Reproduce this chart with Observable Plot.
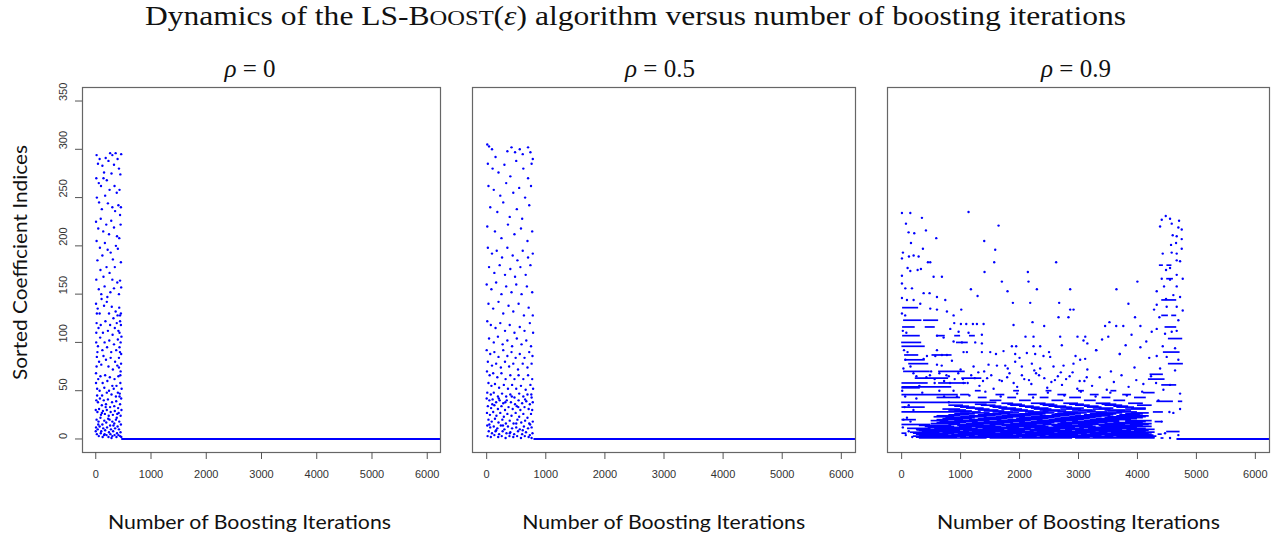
<!DOCTYPE html>
<html><head><meta charset="utf-8">
<script src="https://cdn.jsdelivr.net/npm/d3@7"></script>
<script src="https://cdn.jsdelivr.net/npm/@observablehq/plot@0.6"></script>
<style>
html,body{margin:0;padding:0;background:#fff;}
#wrap{position:relative;width:1283px;height:535px;overflow:hidden;background:#fff;}
#wrap > svg{position:absolute;margin:0;}
</style></head><body><div id="wrap"></div>
<script>
// ---------- text ----------
const chartTitle = ["Dynamics of the LS-B", "OOST", "(", "ε", ") algorithm versus number of boosting iterations"];
const rhoValues = ["0", "0.5", "0.9"];
const xAxisLabel = "Number of Boosting Iterations";
const yAxisLabel = "Sorted Coefficient Indices";
const xTicks = [0, 1000, 2000, 3000, 4000, 5000, 6000];
const yTicks = [0, 50, 100, 150, 200, 250, 300, 350];

// ---------- data: [iteration, sorted coefficient index] ----------
// iteration from which every later step picks coefficient index 0
const tailStart = [470, 800, 4670];
const lastIteration = 6300;

const rho0Points = [
[15,294],[40,285],[70,290],[120,283],[150,276],[180,291],[230,288],[260,296],[300,294],[330,284],[360,296],[395,290],[420,280],[445,274],[460,295],
[10,270],[55,265],[95,262],[140,270],[200,268],[250,258],[285,275],[340,262],[380,255],[430,258],[455,240],
[20,250],[60,245],[110,238],[170,252],[220,244],[300,240],[350,236],[410,242],[440,232],
[5,225],[45,218],[90,228],[135,215],[190,222],[240,212],[280,226],[330,219],[385,210],[425,208],[450,222],
[15,205],[75,198],[120,190],[165,203],[215,196],[270,193],[310,186],[365,200],[400,197],[455,183],
[30,185],[85,175],[140,168],[195,178],[250,172],[300,165],[345,178],[390,162],[440,164],
[10,165],[55,155],[100,150],[160,158],[210,147],[265,152],[330,156],[420,150],[460,157],
[5,140],[35,135],[70,130],[105,145],[150,138],[200,142],[240,130],[290,137],[320,125],[360,132],[395,128],[425,136],[455,130],
[15,120],[50,115],[90,118],[130,110],[175,122],[220,112],[260,118],[305,108],[345,115],[380,120],[410,112],[440,122],[465,106],
[8,100],[40,96],[80,105],[120,92],[160,100],[205,95],[245,102],[280,90],[330,98],[370,92],[400,103],[430,95],[460,88],
[20,85],[60,80],[100,77],[140,86],[185,82],[230,75],[270,84],[310,72],[350,80],[390,76],[420,84],[450,70],
[5,68],[45,62],[85,65],[125,58],[170,66],[210,60],[255,64],[300,55],[340,62],[375,55],[410,65],[445,58],[468,52],
[25,52],[70,50],[115,45],[155,53],[200,48],[240,50],[285,46],[325,52],[365,44],[400,48],[435,47],
[10,40],[40,38],[75,42],[110,35],[145,40],[185,36],[220,41],[260,33],[295,38],[335,34],[370,39],[405,32],[440,36],[465,30],
[0,30],[30,28],[60,31],[95,25],[130,29],[165,26],[200,30],[235,24],[270,28],[310,25],[345,29],[380,22],[415,27],[450,24],
[15,20],[50,18],[85,22],[120,15],[155,19],[190,17],[225,21],[260,14],[300,18],[335,16],[365,20],[395,13],[425,18],[455,15],
[5,12],[35,10],[70,13],[100,8],[135,11],[170,9],[205,12],[240,7],[275,10],[315,8],[350,11],[385,6],[420,10],[448,7],
[20,5],[55,3],[90,6],[125,2],[160,5],[195,4],[230,2],[265,5],[300,3],[340,4],[375,2],[410,4],[440,3],[462,2],
[0,8],[45,15],[110,27],[180,33],[250,20],[320,14],[390,26],[430,44],[460,42],[25,45],[150,4],[285,1],
[440,128],[455,118],[430,110],[450,100],[438,90],[420,74],[445,66],[458,78],[20,130],[10,110],[30,90],[15,75],[5,58]
];

const rho05Points = [
[10,305],[40,303],[90,300],[150,292],[350,298],[420,302],[480,297],[560,300],[610,295],[700,302],[740,297],[780,290],
[20,285],[100,280],[200,276],[300,284],[400,272],[500,288],[620,280],[700,270],[760,285],
[30,262],[120,258],[230,252],[330,265],[450,255],[550,260],[650,250],[750,262],
[60,240],[180,235],[280,245],[390,230],[510,238],[600,228],[720,242],
[10,220],[140,215],[250,208],[360,222],[470,212],[580,218],[690,205],[770,215],
[20,198],[90,192],[170,195],[260,188],[350,198],[440,190],[520,185],[610,195],[700,188],[780,192],
[40,178],[130,172],[220,180],[310,170],[400,176],[480,168],[570,178],[660,170],[740,180],
[0,160],[80,155],[160,162],[250,150],[330,158],[420,152],[500,160],[590,150],[680,158],[770,152],
[30,140],[110,135],[200,142],[280,130],[370,138],[450,132],[540,140],[630,128],[710,136],[780,128],
[10,122],[70,118],[150,115],[230,120],[310,112],[390,118],[470,110],[560,116],[640,112],[730,120],[785,110],
[40,104],[120,100],[190,106],[270,98],[350,102],[430,96],[510,104],[590,98],[670,102],[750,96],
[0,92],[60,88],[130,90],[200,85],[280,92],[350,86],[420,90],[490,84],[560,88],[640,84],[720,90],[775,86],
[20,80],[90,76],[160,78],[240,74],[310,80],[380,75],[450,78],[530,72],[610,78],[690,74],[760,78],
[5,70],[50,66],[110,68],[180,64],[250,68],[320,62],[400,66],[470,62],[540,66],[620,62],[700,66],[770,62],
[30,58],[80,55],[140,57],[210,53],[290,56],[360,52],[430,56],[500,52],[580,55],[660,51],[740,56],[785,52],
[10,48],[70,46],[120,48],[190,44],[260,47],[330,44],[400,46],[470,43],[550,47],[620,44],[690,46],[760,43],
[0,42],[45,40],[100,41],[160,38],[220,40],[280,37],[340,40],[410,38],[480,36],[540,40],[600,37],[670,39],[730,36],[780,38],
[20,34],[75,32],[130,35],[190,31],[250,34],[310,30],[370,33],[440,31],[510,34],[570,30],[640,33],[710,31],[770,30],
[5,27],[55,25],[110,28],[165,24],[230,27],[290,23],[350,26],[420,24],[490,27],[550,23],[620,26],[690,22],[750,26],
[30,20],[85,18],[140,21],[200,17],[265,20],[325,16],[390,19],[455,16],[520,20],[585,17],[650,19],[720,16],[780,18],
[10,14],[60,12],[120,13],[180,11],[240,14],[300,10],[360,13],[430,11],[500,12],[560,10],[630,13],[700,11],[760,12],
[35,8],[90,6],[150,8],[210,5],[270,8],[335,6],[400,7],[465,5],[530,8],[600,5],[665,7],[730,4],[775,6],
[15,3],[70,2],[130,4],[195,2],[255,3],[320,1],[385,3],[450,2],[515,3],[580,1],[645,3],[710,2],[760,1],
[45,15],[160,9],[275,14],[390,6],[500,16],[610,9],[735,15],[95,36],[205,42],[315,38],[425,44],[535,33],[650,41],[755,46]
];

const rho09Points = [
[5,234],[147,234],[344,229],[1135,235],[73,223],[118,214],[214,213],[412,216],[158,203],[587,208],[1401,205],[1644,221],[361,197],[22,193],[124,189],[203,190],[288,189],[5,187],[446,183],[485,183],[1587,196],[1570,183],[2621,183],[101,177],[147,174],[271,175],[327,176],[5,169],[542,168],[683,168],[1406,173],[2141,173],[1700,163],[2152,163],[2859,155],[1175,155],[1796,153],[2294,155],[5,161],[62,156],[175,156],[373,151],[474,151],[599,147],[740,144],[5,146],[90,144],[203,144],[316,140],[485,135],[599,134],[768,132],[881,128],[1011,134],[1288,148],[1887,141],[2181,141],[2672,141],[2859,134],[2916,134],[2661,126],[2830,126],[892,120],[1005,119],[1096,119],[1209,119],[1277,119],[1390,119],[1898,118],[2220,121],[2418,117],[825,114],[966,111],[1135,110],[1361,108],[2101,106],[2237,106],[2689,106],[2983,106],[3085,102],[599,107],[712,105],[881,101],[1022,100],[1248,100],[1361,99],[1870,96],[1943,96],[2237,96],[2350,96],[2717,97],[599,92],[1050,90],[1107,90],[1361,90],[1503,90],[1728,91],[1926,88],[2124,89],[2265,88],[2406,86],[2520,85],[429,86],[571,86],[683,87],[768,87],[62,82],[373,83],[599,77],[853,81],[1220,75],[1474,77],[1616,76],[1757,76],[1926,80],[2039,75],[2209,78],[2350,73],[2576,75],[2746,76],[2915,78],[3028,82],[3113,83],
[3999,163],[3644,155],[4327,153],[3847,140],[3959,126],[3525,121],[3451,117],[3640,117],[3760,117],[4050,117],[3505,106],[3115,106],[3300,92],[3700,88],[4050,95],[4200,84],[3400,103],[3800,97],[3900,108],[4150,101],[3150,99],
[4480,231],[4412,227],[4553,228],[4706,226],[4384,220],[4581,223],[4694,219],[4751,217],[4598,211],[4666,210],[4751,207],[4655,203],[4570,201],[4751,197],[4581,193],[4666,192],[4429,192],[4723,184],[4666,185],[4553,177],[4485,175],[4666,170],[4412,166],[4553,165],[4768,166],[4451,158],[4666,158],[4609,149],[4723,147],[4485,145],[4327,139],[4496,137],[4666,137],[4768,133],[4282,134],[4372,126],[4694,123],[4581,111],[4468,109],[4666,112],[4327,114],[4242,111],[4429,96],[4638,94],[4327,86],[4496,85],[4694,82],[4384,73],[4638,71],[4316,58],[4553,56],[4440,51],[4723,47],[4355,40],[4542,28],[4723,31],[4412,18],[4609,27],[4468,6],[4553,1],[4694,4],
[900,62],[1050,58],[1180,66],[1320,55],[1450,63],[1560,52],[1700,60],[1830,68],[1960,54],[2080,62],[2200,57],[2330,66],[2470,53],[2600,61],[2720,56],[2850,65],[2980,52],[3100,60],[3230,55],[3360,64],[3480,51],[3600,59],[3730,66],[3850,54],[3980,61],[4100,57],[4230,65],
[1000,72],[1400,70],[1800,73],[2250,71],[2700,69],[3150,72],[3550,70],[3950,74],
[1600,88],[2000,84],[2500,90],[2950,86],[3300,92],[3700,88],
[5,130],[60,128],[20,112],[80,110],[40,92],[100,90],[150,75],[30,73],[200,68],[250,65],[10,50],[60,44],[120,35],[200,30],[30,20],[90,22],[150,18],[20,12],[70,4],[120,8],[180,2],[50,33],[250,42],[300,55],[350,48],[420,64],[500,70],[560,58],[640,50],[720,44],[800,38],[680,76],[760,66],[820,58],[880,50],[940,44],
[480,66],[560,62],[640,68],[720,60],[800,65],[960,68],[1040,62],[1120,58],[1240,63],[1300,69],[1380,60],[1520,66],[1660,61],[1790,64],[1900,58],[2040,66],[2160,61],[2280,68],[2420,63],[2540,59],[2650,65],[2790,62],[2900,69],[3020,60],[3140,64],
[1150,45],[1420,49],[1680,44],[1960,47],[2230,43],[2480,48],[2760,45],[3040,49],[3290,44],[3540,48],[3820,45],[4080,49]
];

// runs of consecutive iterations on the same coefficient: [index, firstIteration, lastIteration]
const rho09Runs = [
[136,16,288],[123,33,344],[123,372,627],[116,16,230],[116,400,570],[107,16,316],[107,600,740],[107,900,1000],[107,1150,1250],
[100,0,340],[100,930,1130],[96,5,400],[87,50,290],[87,515,855],[82,60,400],[78,120,460],[70,33,485],[70,627,1079],
[63,231,796],[63,1020,1360],[58,5,450],[58,627,1100],[54,5,850],[46,5,960],[38,0,1615],[53,5,316],[28,5,1163],
[15,5,490],[9.5,260,880],[6,5,90],[20,5,250],[33,5,400],[43,600,1000],
[180,4372,4440],[180,4500,4585],[166,4496,4610],[144,4412,4666],[128,4412,4525],[128,4581,4666],[116,4468,4666],
[104,4525,4768],[90,4440,4723],[78,4525,4779],[67,4214,4440],[62,4186,4468],[56,4412,4666],[39,4327,4610],
[39,4694,4768],[28,4270,4440],[7.7,4496,4723],[48,4100,4300],[18,4300,4420],
[1,300,1450],[1,1500,2900],[1,2950,4300],[1,4400,4450],
[2,250,950],[2,1000,2000],[2,2050,3200],[2,3250,4300],
[3,200,1100],[3,1150,2300],[3,2350,3600],[3,3650,4330],
[4,300,1250],[4,1300,2450],[4,2500,3400],[4,3450,4280],
[5,250,800],[5,850,1900],[5,1950,3000],[5,3050,4250],[5,4350,4420],
[6,200,900],[6,960,2050],[6,2100,3150],[6,3200,4200],
[7,150,650],[7,700,1600],[7,1680,2600],[7,2650,3500],[7,3560,4300],
[8,350,1150],[8,1200,2250],[8,2300,3300],[8,3350,4150],
[9,300,1000],[9,1050,2100],[9,2180,2900],[9,2950,3900],[9,3950,4200],
[10,250,700],[10,780,1750],[10,1800,2700],[10,2780,3750],[10,3820,4300],
[11,100,500],[11,560,1300],[11,1380,2200],[11,2260,3100],[11,3170,4150],
[12,450,1200],[12,1260,2000],[12,2080,2950],[12,3020,4000],
[13,400,900],[13,980,1700],[13,1780,2500],[13,2580,3300],[13,3380,4250],
[14,300,850],[14,950,1600],[14,1700,2450],[14,2550,3250],[14,3350,4100],
[15,800,1400],[15,1500,2300],[15,2400,2900],[15,3000,3800],[15,3880,4200],
[16,500,1000],[16,1100,1750],[16,1850,2550],[16,2650,3350],[16,3450,4250],
[17,600,1100],[17,1200,1900],[17,2000,2600],[17,2700,3500],[17,3600,4100],
[18,650,1300],[18,1400,2100],[18,2200,2800],[18,2900,3700],[18,3800,4150],
[19,500,800],[19,900,1500],[19,1620,2200],[19,2300,3000],[19,3100,3700],[19,3800,4250],
[20,600,1050],[20,1150,1700],[20,1800,2400],[20,2500,3100],[20,3200,3900],
[21,700,1200],[21,1300,1800],[21,1950,2500],[21,2600,3200],[21,3300,4000],
[22,750,1250],[22,1400,1900],[22,2000,2600],[22,2700,3300],[22,3450,4100],
[23,550,900],[23,1000,1450],[23,1600,2100],[23,2200,2700],[23,2850,3400],[23,3500,4150],
[24,600,1000],[24,1150,1600],[24,1700,2200],[24,2350,2850],[24,2950,3550],[24,3650,4200],
[25,800,1150],[25,1300,1700],[25,1800,2400],[25,2550,2950],[25,3100,3600],[25,3700,4050],
[26,900,1250],[26,1400,1850],[26,2000,2450],[26,2600,3050],[26,3200,3650],[26,3800,4100],
[27,1200,1500],[27,1650,2000],[27,2150,2600],[27,2750,3150],[27,3300,3750],[27,3900,4200],
[28,1000,1350],[28,1550,1900],[28,2100,2500],[28,2650,3000],[28,3150,3500],[28,3650,4000],
[29,900,1200],[29,1400,1750],[29,1900,2250],[29,2400,2800],[29,3000,3300],[29,3500,3900],
[30,800,1100],[30,1300,1650],[30,1850,2150],[30,2350,2700],[30,2900,3250],[30,3450,3800],
[31,700,1000],[31,1250,1500],[31,1700,2050],[31,2250,2550],[31,2700,3050],[31,3250,3550],[31,3800,4150],
[32,1100,1400],[32,1650,1950],[32,2200,2500],[32,2800,3100],[32,3350,3600],[32,3900,4150],
[33,1000,1250],[33,1550,1800],[33,2100,2350],[33,2600,2900],[33,3150,3400],[33,3650,3950],
[34,900,1150],[34,1500,1700],[34,2000,2250],[34,2500,2800],[34,3100,3350],[34,3600,3850],
[35,800,1050],[35,1350,1600],[35,1850,2100],[35,2400,2650],[35,2950,3200],[35,3450,3750],[35,4000,4250],
[36,1250,1450],[36,1800,2050],[36,2350,2600],[36,2850,3100],[36,3400,3650],
[37,1700,1900],[37,2200,2450],[37,2750,3000],[37,3300,3550],[37,3850,4100],
[40,1500,1700],[40,2000,2200],[40,2550,2750],[40,3100,3300],[40,3600,3800],
[43,1300,1450],[43,1800,1950],[43,2350,2500],[43,2850,3050],[43,3400,3550],[43,3950,4150],
[46,1000,1150],[46,1600,1750],[46,2150,2300],[46,2650,2800],[46,3200,3350],[46,3750,3900],
[50,1250,1350],[50,1900,2000],[50,2450,2550],[50,3000,3100],[50,3550,3650]
];

// ---------- layout ----------
const BLUE = "#0000ff";
const wrap = document.getElementById("wrap");
const panels = [
  {points: rho0Points, runs: [], tail: tailStart[0], left: 0, width: 445, ml: 82, mr: 5, yAxis: true},
  {points: rho05Points, runs: [], tail: tailStart[1], left: 460, width: 400, ml: 12, mr: 5, yAxis: false},
  {points: rho09Points, runs: rho09Runs, tail: tailStart[2], left: 875, width: 400, ml: 12, mr: 6, yAxis: false}
];

panels.forEach(p => {
  const marks = [
    Plot.ruleY([{x1: p.tail, x2: lastIteration, y: 0}], {x1: "x1", x2: "x2", y: "y", stroke: BLUE, strokeWidth: 2.2, clip: true}),
    Plot.ruleY(p.runs, {y: d => d[0], x1: d => d[1], x2: d => d[2], stroke: BLUE, strokeWidth: 1.7, clip: true}),
    Plot.dot(p.points, {x: d => d[0], y: d => d[1], r: 1.2, fill: BLUE, stroke: null}),
    Plot.frame({stroke: "#666", strokeWidth: 1.2}),
    Plot.axisX(xTicks, {tickSize: 7, tickPadding: 11, tickFormat: "d", fontSize: 11, label: null, stroke: "#555"})
  ];
  if (p.yAxis) {
    marks.push(Plot.axisY(yTicks, {tickSize: 7, tickFormat: () => "", label: null, stroke: "#555"}));
    marks.push(Plot.text(yTicks, {y: d => d, text: d => String(d), frameAnchor: "left", dx: -19.5, rotate: -90, fontSize: 11, fill: "#333"}));
  }
  const svg = Plot.plot({
    width: p.width, height: 455,
    marginTop: 7, marginBottom: 83, marginLeft: p.ml, marginRight: p.mr,
    x: {domain: [-240, 6240]},
    y: {domain: [-14, 364], axis: p.yAxis ? undefined : null},
    style: {fontFamily: "'Liberation Sans', Arial, sans-serif", fontSize: "11px", color: "#333", background: "transparent"},
    marks
  });
  svg.style.left = p.left + "px";
  svg.style.top = "80px";
  wrap.appendChild(svg);
});

// ---------- text overlay ----------
const NS = "http://www.w3.org/2000/svg";
const ov = document.createElementNS(NS, "svg");
ov.setAttribute("width", 1283); ov.setAttribute("height", 535);
ov.style.left = "0px"; ov.style.top = "0px"; ov.style.pointerEvents = "none";
wrap.appendChild(ov);
function el(tag, attrs, parent) {
  const e = document.createElementNS(NS, tag);
  for (const k in attrs) e.setAttribute(k, attrs[k]);
  parent.appendChild(e); return e;
}
function tspan(parent, txt, attrs = {}) { const t = el("tspan", attrs, parent); t.textContent = txt; return t; }

const serif = "'Liberation Serif', 'DejaVu Serif', serif";
const sans = "Lato, 'Open Sans', sans-serif";

const title = el("text", {x: 635.5, y: 25, "text-anchor": "middle", "font-family": serif, "font-size": 27, fill: "#111", textLength: 981, lengthAdjust: "spacingAndGlyphs"}, ov);
tspan(title, chartTitle[0]);
tspan(title, chartTitle[1], {"font-size": 21});
tspan(title, chartTitle[2]);
tspan(title, chartTitle[3], {"font-style": "italic"});
tspan(title, chartTitle[4]);

const titleX = [250, 660, 1076];
const labelX = [249.5, 663.7, 1078.4];
rhoValues.forEach((v, i) => {
  const t = el("text", {x: titleX[i], y: 77, "text-anchor": "middle", "font-family": serif, "font-size": 25, fill: "#111"}, ov);
  tspan(t, "ρ", {"font-style": "italic"});
  tspan(t, " = " + v);
  const xl = el("text", {x: labelX[i], y: 529, "text-anchor": "middle", "font-family": sans, "font-size": 20, fill: "#111", textLength: 283, lengthAdjust: "spacingAndGlyphs"}, ov);
  xl.textContent = xAxisLabel;
});
const g = el("g", {transform: "translate(27,262.5) rotate(-90)"}, ov);
const yl = el("text", {x: 0, y: 0, "text-anchor": "middle", "font-family": sans, "font-size": 20, fill: "#111", textLength: 235, lengthAdjust: "spacingAndGlyphs"}, g);
yl.textContent = yAxisLabel;
</script></body></html>
